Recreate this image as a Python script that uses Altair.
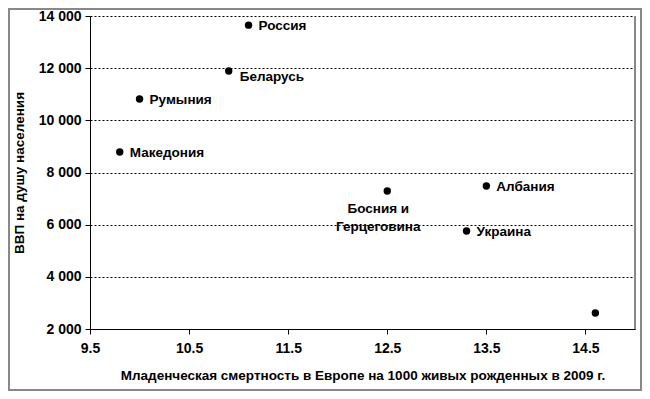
import altair as alt
import pandas as pd

countries = ["Россия", "Беларусь", "Румыния", "Македония", "Босния и Герцеговина",
             "Албания", "Украина", "Молдова"]
labels = ["Россия", "Беларусь", "Румыния", "Македония", "Босния и\nГерцеговина",
          "Албания", "Украина", ""]
mortality = [11.1, 10.9, 10.0, 9.8, 12.5, 13.5, 13.3, 14.6]
gdp = [13650, 11890, 10820, 8785, 7290, 7480, 5756, 2612]

x_ticks = [9.5, 10.5, 11.5, 12.5, 13.5, 14.5]
y_ticks = [2000, 4000, 6000, 8000, 10000, 12000, 14000]

df = pd.DataFrame({"country": countries, "label": labels, "x": mortality, "y": gdp})

FONT = "Liberation Sans"
W, H = 545, 313

xenc = alt.X("x:Q", scale=alt.Scale(domain=[9.5, 15.0], nice=False, zero=False),
             axis=alt.Axis(values=x_ticks, format=".1f", grid=False, labelFlush=False,
                           title="Младенческая смертность в Европе на 1000 живых рожденных в 2009 г.",
                           labelPadding=7, titlePadding=13))
yenc = alt.Y("y:Q", scale=alt.Scale(domain=[2000, 14000], nice=False, zero=False),
             axis=alt.Axis(values=y_ticks, grid=True, gridDash=[2, 2], gridColor="#000",
                           gridOpacity=1, labelFlush=False,
                           labelExpr="replace(format(datum.value, ','), ',', ' ')",
                           title="ВВП на душу населения", labelPadding=4, titlePadding=12))

base = alt.Chart(df)

points = base.mark_circle(size=55, color="#000", opacity=1).encode(x=xenc, y=yenc)

txt = dict(font=FONT, fontSize=13.5, fontWeight="bold", color="#000", baseline="middle")

right = base.transform_filter(
    alt.FieldOneOfPredicate(field="country",
                            oneOf=["Россия", "Румыния", "Македония", "Албания", "Украина"])
).mark_text(align="left", dx=10, dy=1, **txt).encode(x="x:Q", y="y:Q", text="label:N")

bel = base.transform_filter(alt.FieldEqualPredicate(field="country", equal="Беларусь")
).mark_text(align="left", dx=11, dy=6, **txt).encode(x="x:Q", y="y:Q", text="label:N")

bos = base.transform_filter(alt.FieldEqualPredicate(field="country", equal="Босния и Герцеговина")
).mark_text(align="center", dx=-9, dy=18, lineBreak="\n", lineHeight=18, **txt
).encode(x="x:Q", y="y:Q", text="label:N")

right_edge = alt.Chart(df).mark_rule(color="#888", strokeWidth=1).encode(
    x=alt.value(W), y=alt.value(0), y2=alt.value(H))

frame = alt.Chart(df).mark_rect(fill=None, stroke="#888", strokeWidth=1.5, clip=False).encode(
    x=alt.value(-81), x2=alt.value(551), y=alt.value(-7), y2=alt.value(374))

chart = alt.layer(frame, right_edge, points, right, bel, bos).properties(
    width=W, height=H,
    autosize=alt.AutoSizeParams(type="none"),
    padding={"left": 82, "top": 8, "right": 7, "bottom": 62},
    background="white",
).configure_view(stroke=None).configure_axis(
    domainColor="#000", tickColor="#000", tickSize=5,
    labelFont=FONT, labelFontSize=14, labelFontWeight="bold", labelColor="#000",
    titleFont=FONT, titleFontSize=13.5, titleFontWeight="bold", titleColor="#000",
)

chart.save("out.html", embed_options={"renderer": "svg", "actions": False})
